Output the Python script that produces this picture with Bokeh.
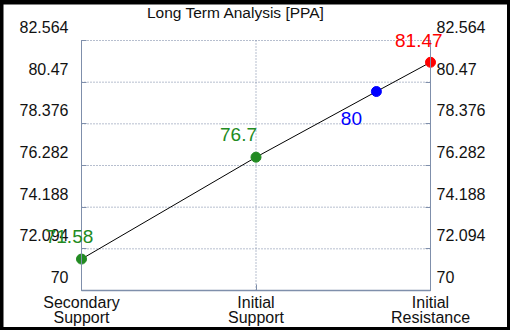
from bokeh.plotting import figure
from bokeh.layouts import column
from bokeh.models import (Range1d, FixedTicker, LinearAxis, Label, LabelSet,
                          ColumnDataSource)
from bokeh.core.properties import value
from bokeh.embed import file_html
from bokeh.resources import INLINE

# ---- data ----
title_text = "Long Term Analysis [PPA]"
category_labels = ["Secondary\nSupport", "Initial\nSupport", "Initial\nResistance"]
category_pos = [0, 1, 2]
point_x = [0, 1, 1.69, 2]
point_y = [71.58, 76.7, 80.0, 81.47]
point_text = ["71.58", "76.7", "80", "81.47"]
point_colors = ["#228B22", "#228B22", "#0000FF", "#FF0000"]
y_ticks = [70, 72.094, 74.188, 76.282, 78.376, 80.47, 82.564]
y_tick_labels = ["70", "72.094", "74.188", "76.282", "78.376", "80.47", "82.564"]

# ---- styling / layout (pixels) ----
FONT = "Liberation Sans"
TEXT_COLOR = "#111111"
AXIS_COLOR = "#7f8fab"
GRID_COLOR = "#6f7f9f"
label_dx = [-12, -17.5, -25, -11.7]
label_dy = [22.7, 22.4, -27, 21.5]
W, H = 504, 323
PLOT_L, PLOT_R, PLOT_T, PLOT_B = 78, 427, 36, 286   # plot box inside the canvas
TICK_LABEL_RAISE = 13.5                              # tick labels sit above their lines

# ranges: the drawing frame fills the whole canvas,
# the plot box is placed inside it through the ranges
x0, x1 = category_pos[0], category_pos[-1]
x_ppu = (PLOT_R - PLOT_L) / (x1 - x0)
y0, y1 = y_ticks[0], y_ticks[-1]
y_ppu = (PLOT_B - PLOT_T) / (y1 - y0)
x_range = Range1d(x0 - PLOT_L / x_ppu, x1 + (W - PLOT_R) / x_ppu)
y_range = Range1d(y0 - (H - PLOT_B) / y_ppu, y1 + PLOT_T / y_ppu)
shift = TICK_LABEL_RAISE / y_ppu
label_range = Range1d(y_range.start - shift, y_range.end - shift)

p = figure(width=W, height=H, output_backend="svg", toolbar_location=None,
           x_range=x_range, y_range=y_range, x_axis_location=None, y_axis_location=None,
           min_border_left=0, min_border_right=0, min_border_top=0, min_border_bottom=0,
           outline_line_color=None, background_fill_color="white", border_fill_color="white")
p.margin = (4, 3, 3, 3)
p.extra_y_ranges = {"labels": label_range}
p.grid.visible = False

# bottom axis: category labels and inward ticks at the bottom of the plot box
xax = LinearAxis(ticker=FixedTicker(ticks=category_pos), fixed_location=y0, bounds=(x0, x1))
xax.major_label_overrides = {pos: lab for pos, lab in zip(category_pos, category_labels)}
xax.major_label_text_font = FONT
xax.major_label_text_font_size = "16px"
xax.major_label_text_color = TEXT_COLOR
xax.major_label_text_line_height = 0.92
xax.major_label_standoff = 3
xax.axis_line_color = None
xax.major_tick_line_color = AXIS_COLOR
xax.major_tick_in = 6
xax.major_tick_out = 0
xax.minor_tick_line_color = None
p.add_layout(xax, "below")


def line_axis(loc):
    ax = LinearAxis(ticker=FixedTicker(ticks=y_ticks), fixed_location=loc, bounds=(y0, y1))
    ax.major_label_text_color = None
    ax.axis_line_color = AXIS_COLOR
    ax.major_tick_line_color = AXIS_COLOR
    ax.major_tick_in = 5
    ax.major_tick_out = 0
    ax.minor_tick_line_color = None
    return ax


def label_axis(loc, standoff):
    ax = LinearAxis(ticker=FixedTicker(ticks=y_ticks), fixed_location=loc, y_range_name="labels")
    ax.major_label_overrides = {t: lab for t, lab in zip(y_ticks, y_tick_labels)}
    ax.major_label_text_font = FONT
    ax.major_label_text_font_size = "16px"
    ax.major_label_text_color = TEXT_COLOR
    ax.major_label_standoff = standoff
    ax.axis_line_color = None
    ax.major_tick_line_color = None
    ax.major_tick_out = 0
    ax.major_tick_in = 0
    ax.minor_tick_line_color = None
    return ax


p.add_layout(line_axis(x0), "left")
p.add_layout(line_axis(x1), "right")
p.add_layout(label_axis(x0, 13), "left")
p.add_layout(label_axis(x1, 6), "right")

# dotted grid inside the plot box
n = len(y_ticks)
p.segment(x0=[x0] * n, x1=[x1] * n, y0=y_ticks, y1=y_ticks,
          line_color=GRID_COLOR, line_dash="1 2", line_width=1)
m = len(category_pos)
p.segment(x0=category_pos, x1=category_pos, y0=[y0] * m, y1=[y1] * m,
          line_color=GRID_COLOR, line_dash="1 2", line_width=1)
# solid bottom axis line, limited to the plot box
p.segment(x0=[x0], x1=[x1], y0=[y0], y1=[y0], line_color=AXIS_COLOR, line_width=1.5)

# title
p.add_layout(Label(x=category_pos[1], y=y1, x_offset=-20, y_offset=28, text=title_text,
                   text_align="center", text_baseline="alphabetic", text_font=FONT,
                   text_font_size="15.5px", text_color=TEXT_COLOR))

# data
src = ColumnDataSource(dict(x=point_x, y=point_y, t=point_text, c=point_colors,
                            dx=label_dx, dy=label_dy))
p.line("x", "y", source=src, line_color="black", line_width=1)
p.scatter("x", "y", source=src, size=10, fill_color="c", line_color="c")
p.add_layout(LabelSet(x="x", y="y", text="t", source=src, x_offset="dx", y_offset="dy",
                      text_align="center", text_baseline="middle", text_font=value(FONT),
                      text_font_size="19px", text_color="c"))

layout = column(p, styles={"background-color": "black"})
open("out.html", "w").write(file_html(layout, INLINE))
